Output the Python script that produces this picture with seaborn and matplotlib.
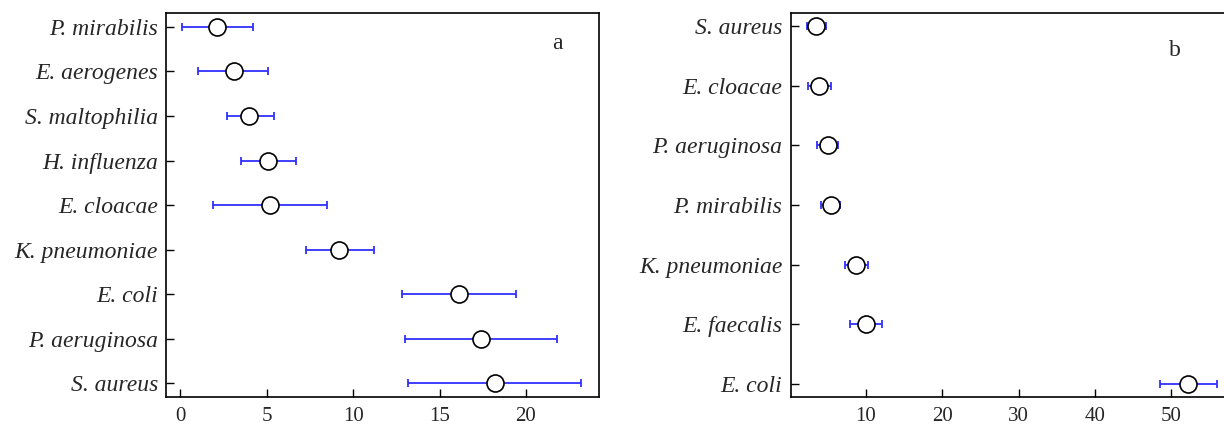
import matplotlib
matplotlib.use("Agg")
from matplotlib import pyplot as plt
import pandas as pd
import seaborn as sns

# panel a
names_a = ['P. mirabilis', 'E. aerogenes', 'S. maltophilia', 'H. influenza', 'E. cloacae',
           'K. pneumoniae', 'E. coli', 'P. aeruginosa', 'S. aureus']
mean_a = [2.1, 3.1, 4.0, 5.1, 5.2, 9.2, 16.1, 17.4, 18.2]
low_a = [0.1, 1.0, 2.7, 3.5, 1.9, 7.3, 12.8, 13.0, 13.2]
high_a = [4.2, 5.1, 5.4, 6.7, 8.5, 11.2, 19.4, 21.8, 23.2]

# panel b
names_b = ['S. aureus', 'E. cloacae', 'P. aeruginosa', 'P. mirabilis', 'K. pneumoniae',
           'E. faecalis', 'E. coli']
mean_b = [3.5, 3.9, 5.05, 5.45, 8.8, 10.05, 52.2]
low_b = [2.3, 2.5, 3.7, 4.2, 7.3, 8.0, 48.5]
high_b = [4.8, 5.5, 6.4, 6.7, 10.3, 12.1, 56.0]

sns.set_style("ticks")
plt.rcParams['font.family'] = ['Liberation Serif', 'DejaVu Serif']
plt.rcParams['font.size'] = 16

fig = plt.figure(figsize=(12.24, 4.25), dpi=100)
ax_a = fig.add_axes([0.136, 0.066, 0.353, 0.903])
ax_b = fig.add_axes([0.646, 0.066, 0.361, 0.903])


def draw_panel(ax, names, mean, low, high, letter, lx, ly):
    df = pd.DataFrame({'name': names, 'mean': mean, 'low': low, 'high': high})
    xerr = [df['mean'] - df['low'], df['high'] - df['mean']]
    ax.errorbar(df['mean'], df['name'], xerr=xerr, fmt='none', ecolor='#3030ff',
                elinewidth=1.3, capsize=3, capthick=1.3, zorder=2)
    sns.scatterplot(data=df, x='mean', y='name', ax=ax, marker='o', s=150,
                    facecolor='white', edgecolor='black', linewidth=1.2, zorder=3)
    ax.set_xlabel('')
    ax.set_ylabel('')
    ax.tick_params(direction='in', length=6, width=1, color='black')
    ax.tick_params(axis='x', labelsize=15, pad=7)
    ax.tick_params(axis='y', labelsize=17, pad=6)
    for lab in ax.get_yticklabels():
        lab.set_fontstyle('italic')
    for s in ax.spines.values():
        s.set_linewidth(1.2)
        s.set_color('black')
    ax.text(lx, ly, letter, transform=ax.transAxes, fontsize=17, ha='center', va='center')


draw_panel(ax_a, names_a, mean_a, low_a, high_a, 'a', 0.905, 0.92)
ax_a.set_xlim(-0.8, 24.2)
ax_a.set_xticks([0, 5, 10, 15, 20])
ax_a.set_ylim(8.31, -0.31)

draw_panel(ax_b, names_b, mean_b, low_b, high_b, 'b', 0.869, 0.904)
ax_b.set_xlim(0.2, 58)
ax_b.set_xticks([10, 20, 30, 40, 50])
ax_b.set_ylim(6.22, -0.22)

fig.savefig('out.png', dpi=100)
